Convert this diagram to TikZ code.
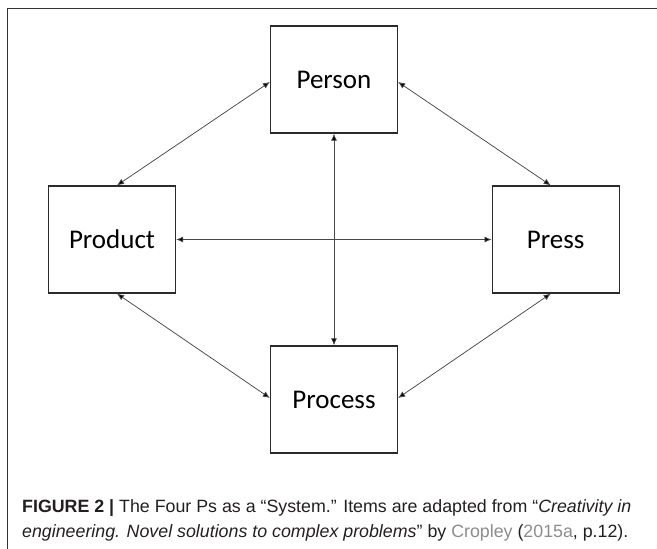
\documentclass[tikz,border=0pt]{standalone}
\usepackage{fontspec}
\setmainfont{Liberation Sans}
\newfontfamily\boxfont{Carlito}
\usetikzlibrary{arrows.meta}
\definecolor{boxline}{HTML}{2B2B2B}
\definecolor{arrowline}{HTML}{484848}
\definecolor{captext}{HTML}{231F20}
\definecolor{linkgray}{HTML}{8C8C8C}
\tikzset{
  pbox/.style={draw=boxline, line width=1.3pt, minimum width=127pt, minimum height=107pt,
    inner sep=0pt, font=\boxfont\fontsize{27}{32}\selectfont, text=black},
  link/.style={draw=arrowline, line width=0.75pt, {Latex[length=7pt,width=6pt,fill=black]}-{Latex[length=7pt,width=6pt,fill=black]}},
  frameline/.style={draw=black!80, line width=1pt},
  captionline/.style={anchor=west, inner sep=0pt, text=captext, font=\fontsize{17.8}{20}\selectfont}
}
\begin{document}
\begin{tikzpicture}[x=1pt,y=-1pt]
\useasboundingbox (0,0) rectangle (657,549);
\coordinate (ftr) at (657,8.3);
\coordinate (ftl) at (7.7,8.3);
\coordinate (fbl) at (7.7,549);
\draw[frameline] (ftr) -- (ftl) -- (fbl);

\node[pbox] (person)  at (334,79.5)  {Person};
\node[pbox] (product) at (112,239.5) {Product};
\node[pbox] (press)   at (555.7,239.5) {Press};
\node[pbox] (process) at (334,399.5) {Process};

\draw[link] ([yshift=-2.5pt]person.west) -- ([xshift=5pt]product.north);
\draw[link] ([yshift=-2.5pt]person.east) -- ([xshift=-5pt]press.north);
\draw[link] (person.south) -- (process.north);
\draw[link] (product.east) -- (press.west);
\draw[link] ([xshift=5pt]product.south) -- ([yshift=1.5pt]process.west);
\draw[link] ([xshift=-5pt]press.south) -- ([yshift=1.5pt]process.east);

\node[captionline] (cap1) at (22,508) {\textbf{FIGURE 2 |} The Four Ps as a “System.” Items are adapted from “\textit{Creativity in}};
\node[captionline] (cap2) at (22,533) {\textit{engineering. Novel solutions to complex problems}” by \textcolor{linkgray}{Cropley} (\textcolor{linkgray}{2015a}, p.12).};
\end{tikzpicture}
\end{document}
